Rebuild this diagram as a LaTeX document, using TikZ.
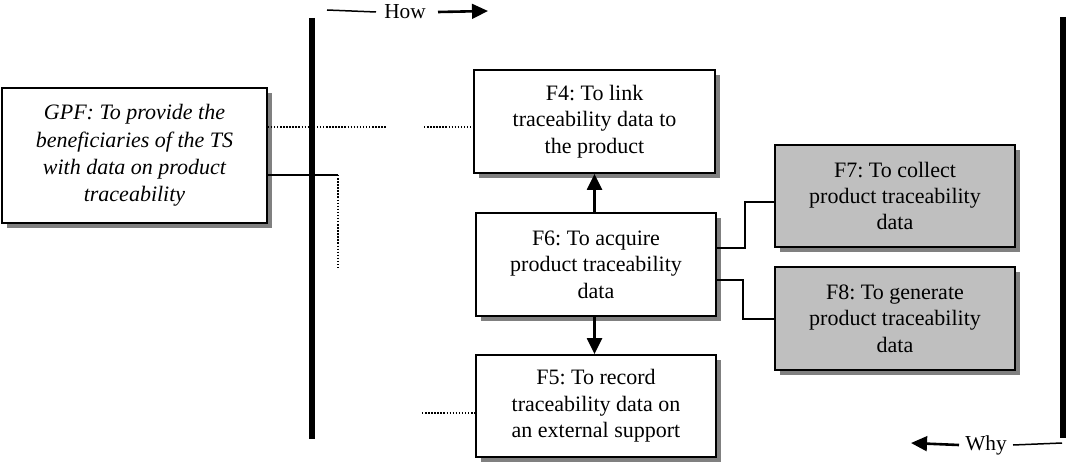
\documentclass[tikz,border=0pt]{standalone}
\usepackage{fontspec}
\setmainfont{Liberation Serif}
\usetikzlibrary{arrows.meta,shadows}
\begin{document}
\frenchspacing
\begin{tikzpicture}[x=0.75pt,y=-0.75pt,
  fbox/.style={draw=black, line width=1.6*0.75pt, align=center, inner sep=0pt,
    font=\fontsize{16.5}{19.8}\selectfont,
    drop shadow={shadow xshift=5*0.75pt, shadow yshift=-5*0.75pt, fill=black!50, opacity=1}},
  whitebox/.style={fbox, fill=white},
  graybox/.style={fbox, fill=black!25},
  conn/.style={draw=black, line width=1.5*0.75pt},
  dots/.style={draw=black, line width=1.1pt, dash pattern=on 1.1pt off 1.2pt},
  bar/.style={draw=black, line width=6*0.75pt},
  bigarrow/.style={draw=black, line width=3*0.75pt, -{Triangle[width=11pt,length=12pt]}},
  lbl/.style={font=\fontsize{16}{19}\selectfont, inner sep=0pt}
]
\useasboundingbox (0,0) rectangle (1067,463);

% boxes
\node[whitebox, minimum width=265*0.75pt, minimum height=135*0.75pt, font=\fontsize{16.5}{20.5}\selectfont\itshape] (gpf) at (134.5,155.5)
  {GPF: To provide the\\beneficiaries of the TS\\with data on product\\traceability};
\node[whitebox, minimum width=241*0.75pt, minimum height=103*0.75pt] (f4) at (594.5,121.5)
  {F4: To link\\traceability data to\\the product};
\node[whitebox, minimum width=240*0.75pt, minimum height=103*0.75pt] (f6) at (596,264.5)
  {F6: To acquire\\product traceability\\data};
\node[whitebox, minimum width=240*0.75pt, minimum height=102*0.75pt] (f5) at (596,406)
  {F5: To record\\traceability data on\\an external support};
\node[graybox, minimum width=240*0.75pt, minimum height=102*0.75pt] (f7) at (895,196)
  {F7: To collect\\product traceability\\data};
\node[graybox, minimum width=240*0.75pt, minimum height=103*0.75pt] (f8) at (895,318.5)
  {F8: To generate\\product traceability\\data};

% thick bars
\coordinate (bl1) at (312,18);
\coordinate (bl2) at (312,439);
\coordinate (br1) at (1063,17);
\coordinate (br2) at (1063,438);
\draw[bar] (bl1) -- (bl2);
\draw[bar] (br1) -- (br2);

% How
\node[lbl] (how) at (405,12) {How};
\coordinate (h1) at (327,10);
\coordinate (h3) at (488,11);
\draw[conn] (h1) -- (how.west -| 376,0);
\draw[draw=black, line width=2.6*0.75pt, -{Triangle[width=11pt,length=12pt]}] (how.east -| 438,0) -- (h3);

% Why
\node[lbl] (why) at (986,445) {Why};
\coordinate (w1) at (1062,443);
\coordinate (w3) at (911,443);
\draw[conn] (w1) -- (why.east -| 1013,0);
\draw[draw=black, line width=2.6*0.75pt, -{Triangle[width=11pt,length=12pt]}] (why.west -| 959,0) -- (w3);

% dotted lines
\coordinate (d1) at (387,127);
\coordinate (d2) at (424,127);
\coordinate (d3) at (422,413);
\coordinate (sv) at (338,175);
\coordinate (sv2) at (338,270);
\draw[dots] (gpf.east |- d1) -- (d1);
\draw[dots] (d2) -- (f4.west |- d2);
\draw[dots] (d3) -- (f5.west |- d3);
\draw[conn] (gpf.east |- sv) -- (sv);
\draw[dots] (sv) -- (sv2);

% arrows between F boxes
\draw[bigarrow] (f6.north -| f4.south) -- (f4.south);
\draw[bigarrow] (f6.south -| f4.south) -- (f5.north -| f4.south);

% connectors to F7, F8
\coordinate (c7) at (745,202);
\coordinate (c8) at (743,319);
\draw[conn] (f6.east |- 0,248) -| (c7) -- (f7.west |- c7);
\draw[conn] (f6.east |- 0,280) -| (c8) -- (f8.west |- c8);
\end{tikzpicture}
\end{document}
